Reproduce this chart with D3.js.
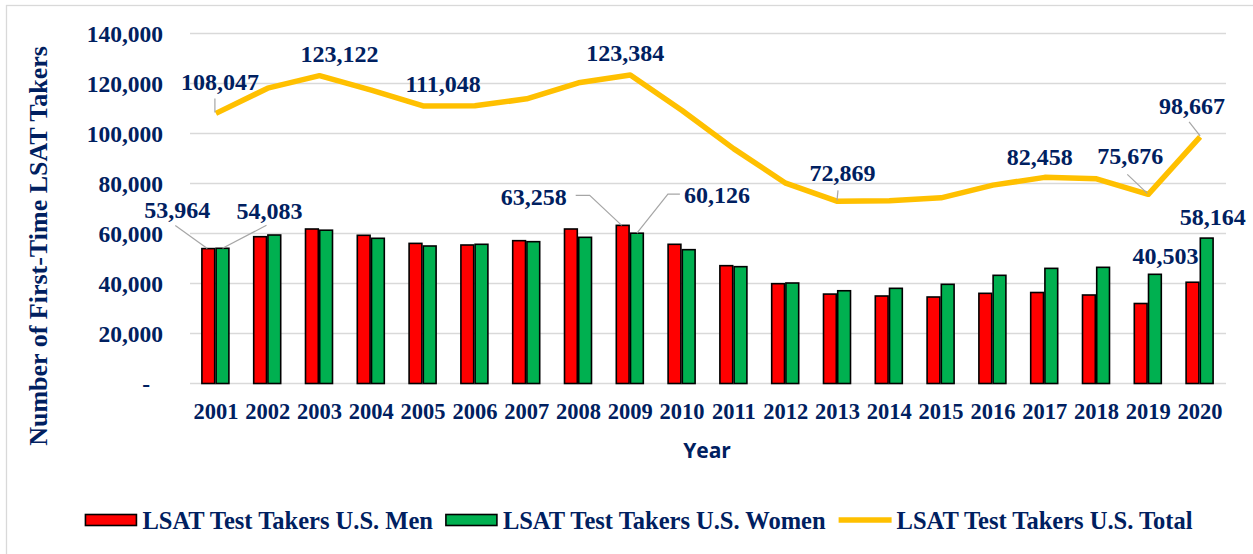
<!DOCTYPE html>
<html>
<head>
<meta charset="utf-8">
<script src="https://cdn.jsdelivr.net/npm/d3@7"></script>
<style>
  html, body { margin: 0; padding: 0; background: #fff; }
  svg text { font-family: "Liberation Serif", "Times New Roman", serif; font-weight: bold; fill: #002060; }
</style>
</head>
<body>
<svg id="chart" width="1253" height="554"></svg>
<script>
// data
var years = ["2001", "2002", "2003", "2004", "2005", "2006", "2007", "2008", "2009", "2010",
             "2011", "2012", "2013", "2014", "2015", "2016", "2017", "2018", "2019", "2020"];
var menValues = [53964, 58720, 61800, 59280, 56048, 55400, 57130, 61800, 63258, 55680,
                 47130, 39930, 35769, 35000, 34600, 36070, 36400, 35400, 32000, 40503];
var womenValues = [54083, 59400, 61322, 58080, 55000, 55680, 56730, 58470, 60126, 53530,
                   46730, 40200, 37100, 38070, 39670, 43270, 46058, 46470, 43676, 58164];
var totalValues = [108047, 118120, 123122, 117360, 111048, 111080, 113860, 120270, 123384, 109210,
                   93860, 80130, 72869, 73070, 74270, 79340, 82458, 81870, 75676, 98667];
var yTicks = [0, 20000, 40000, 60000, 80000, 100000, 120000, 140000];
var seriesNames = ["LSAT Test Takers U.S. Men", "LSAT Test Takers U.S. Women", "LSAT Test Takers U.S. Total"];

// which points get a value label, and where the label sits (pixel offsets from the mark)
var labelSpots = [
    { series: "total", year: "2001", dx: 4, dy: -32, leader: [[-1, -15], [-1, -1]] },
    { series: "total", year: "2003", dx: 20, dy: -22 },
    { series: "total", year: "2005", dx: 20, dy: -22 },
    { series: "total", year: "2009", dx: -5, dy: -22 },
    { series: "total", year: "2013", dx: 5, dy: -29, leader: [[0.5, -11], [-0.5, -1]] },
    { series: "total", year: "2017", dx: -5, dy: -21 },
    { series: "total", year: "2019", dx: -18, dy: -39, leader: [[-21, -20], [-1, -1]] },
    { series: "total", year: "2020", dx: -8, dy: -31, leader: [[-11, -15], [0, -1]] },
    { series: "men", year: "2001", dx: -31, dy: -39, leader: [[-33, -23], [-1, 0]] },
    { series: "women", year: "2001", dx: 47, dy: -38, leader: [[44, -23], [0, 0]] },
    { series: "men", year: "2009", dx: -89, dy: -29, leader: [[-47, -30], [-33, -30], [-1, 0]] },
    { series: "women", year: "2009", dx: 80, dy: -39, leader: [[43, -39], [31, -39], [0, 0]] },
    { series: "men", year: "2020", dx: -27, dy: -27 },
    { series: "women", year: "2020", dx: 6, dy: -21 }
];

var colors = { men: "#FF0000", women: "#00B050", total: "#FFC000" };
var navy = "#002060";

var svg = d3.select("#chart");

// outer chart border
svg.append("rect")
    .attr("x", 6.5).attr("y", 5.5)
    .attr("width", 1260).attr("height", 560)
    .attr("fill", "none")
    .attr("stroke", "#D9D9D9")
    .attr("stroke-width", 1.3);

var plot = { left: 190, right: 1226, top: 33.5, bottom: 383.5 };

var x = d3.scaleBand().domain(years).range([plot.left, plot.right]).padding(0);
var x1 = d3.scaleBand().domain(["men", "women"]).range([-14, 13]).paddingInner(0.1);
var y = d3.scaleLinear().domain([0, 140000]).range([plot.bottom, plot.top]);

// gridlines
svg.append("g")
    .selectAll("line")
    .data(yTicks)
    .join("line")
    .attr("x1", plot.left).attr("x2", plot.right)
    .attr("y1", function (d) { return y(d); })
    .attr("y2", function (d) { return y(d); })
    .attr("stroke", "#D9D9D9")
    .attr("stroke-width", 1.3);

// y axis labels
var fmt = d3.format(",");
var yAxis = d3.axisLeft(y)
    .tickValues(yTicks)
    .tickSize(0)
    .tickPadding(0)
    .tickFormat(function (d) { return d === 0 ? "-" : fmt(d); });

var yAxisG = svg.append("g")
    .attr("transform", "translate(163,0)")
    .call(yAxis);
yAxisG.select(".domain").remove();
yAxisG.selectAll("text")
    .attr("font-size", 23.5)
    .attr("font-family", null)
    .attr("fill", navy)
    .attr("dy", "0.36em")
    .attr("dx", function (d) { return d === 0 ? -13 : 0; });

// x axis labels
var xAxis = d3.axisBottom(x).tickSize(0).tickPadding(0);
var xAxisG = svg.append("g")
    .attr("transform", "translate(0," + plot.bottom + ")")
    .call(xAxis);
xAxisG.select(".domain").remove();
xAxisG.selectAll("text")
    .attr("font-size", 22.5)
    .attr("font-family", null)
    .attr("fill", navy)
    .attr("dy", 0)
    .attr("y", 35);

// bars
var barRows = years.map(function (yr, i) {
    return { year: yr, men: menValues[i], women: womenValues[i] };
});

var groups = svg.append("g")
    .selectAll("g")
    .data(barRows)
    .join("g")
    .attr("transform", function (d) { return "translate(" + (x(d.year) + x.bandwidth() / 2) + ",0)"; });

groups.selectAll("rect")
    .data(function (d) { return ["men", "women"].map(function (k) { return { key: k, value: d[k] }; }); })
    .join("rect")
    .attr("x", function (d) { return x1(d.key); })
    .attr("width", x1.bandwidth())
    .attr("y", function (d) { return y(d.value); })
    .attr("height", function (d) { return y(0) - y(d.value); })
    .attr("fill", function (d) { return colors[d.key]; })
    .attr("stroke", "#000")
    .attr("stroke-width", 1.6);

// total line
var line = d3.line()
    .x(function (d, i) { return x(years[i]) + x.bandwidth() / 2; })
    .y(function (d) { return y(d); });

svg.append("path")
    .datum(totalValues)
    .attr("d", line)
    .attr("fill", "none")
    .attr("stroke", colors.total)
    .attr("stroke-width", 5.5)
    .attr("stroke-linejoin", "round");

// data labels
function anchorOf(spot) {
    var i = years.indexOf(spot.year);
    var cx = x(spot.year) + x.bandwidth() / 2;
    if (spot.series === "total") return { x: cx, y: y(totalValues[i]), v: totalValues[i] };
    var vals = spot.series === "men" ? menValues : womenValues;
    return { x: cx + x1(spot.series) + x1.bandwidth() / 2, y: y(vals[i]), v: vals[i] };
}

var labelG = svg.append("g");
labelSpots.forEach(function (spot) {
    var a = anchorOf(spot);
    if (spot.leader) {
        labelG.append("path")
            .attr("d", d3.line()(spot.leader.map(function (p) { return [a.x + p[0], a.y + p[1]]; })))
            .attr("fill", "none")
            .attr("stroke", "#A6A6A6")
            .attr("stroke-width", 1.2);
    }
    labelG.append("text")
        .attr("x", a.x + spot.dx)
        .attr("y", a.y + spot.dy)
        .attr("dy", "0.35em")
        .attr("text-anchor", "middle")
        .attr("font-size", 24)
        .text(fmt(a.v));
});

// axis titles
svg.append("text")
    .attr("transform", "translate(47,246) rotate(-90)")
    .attr("text-anchor", "middle")
    .attr("font-size", 26)
    .text("Number of First-Time LSAT Takers");

svg.append("text")
    .attr("x", 707).attr("y", 458)
    .attr("text-anchor", "middle")
    .attr("font-size", 21)
    .style("font-family", "'Open Sans', 'Liberation Sans', sans-serif")
    .text("Year");

// legend
var legend = svg.append("g");
var lx = 0;
var legendKeys = ["men", "women", "total"];
legendKeys.forEach(function (k, i) {
    if (k === "total") {
        legend.append("line")
            .attr("x1", lx).attr("x2", lx + 53)
            .attr("y1", 0).attr("y2", 0)
            .attr("stroke", colors.total)
            .attr("stroke-width", 5.5);
        lx += 58;
    } else {
        legend.append("rect")
            .attr("x", lx).attr("y", -5.5)
            .attr("width", 51).attr("height", 11)
            .attr("fill", colors[k])
            .attr("stroke", "#000")
            .attr("stroke-width", 1.6);
        lx += 57;
    }
    var t = legend.append("text")
        .attr("x", lx).attr("y", 0)
        .attr("dy", "0.35em")
        .attr("font-size", 24.5)
        .text(seriesNames[i]);
    lx += t.node().getComputedTextLength() + 13;
});
legend.attr("transform", "translate(" + (639 - (lx - 13) / 2) + ",520)");
</script>
</body>
</html>
